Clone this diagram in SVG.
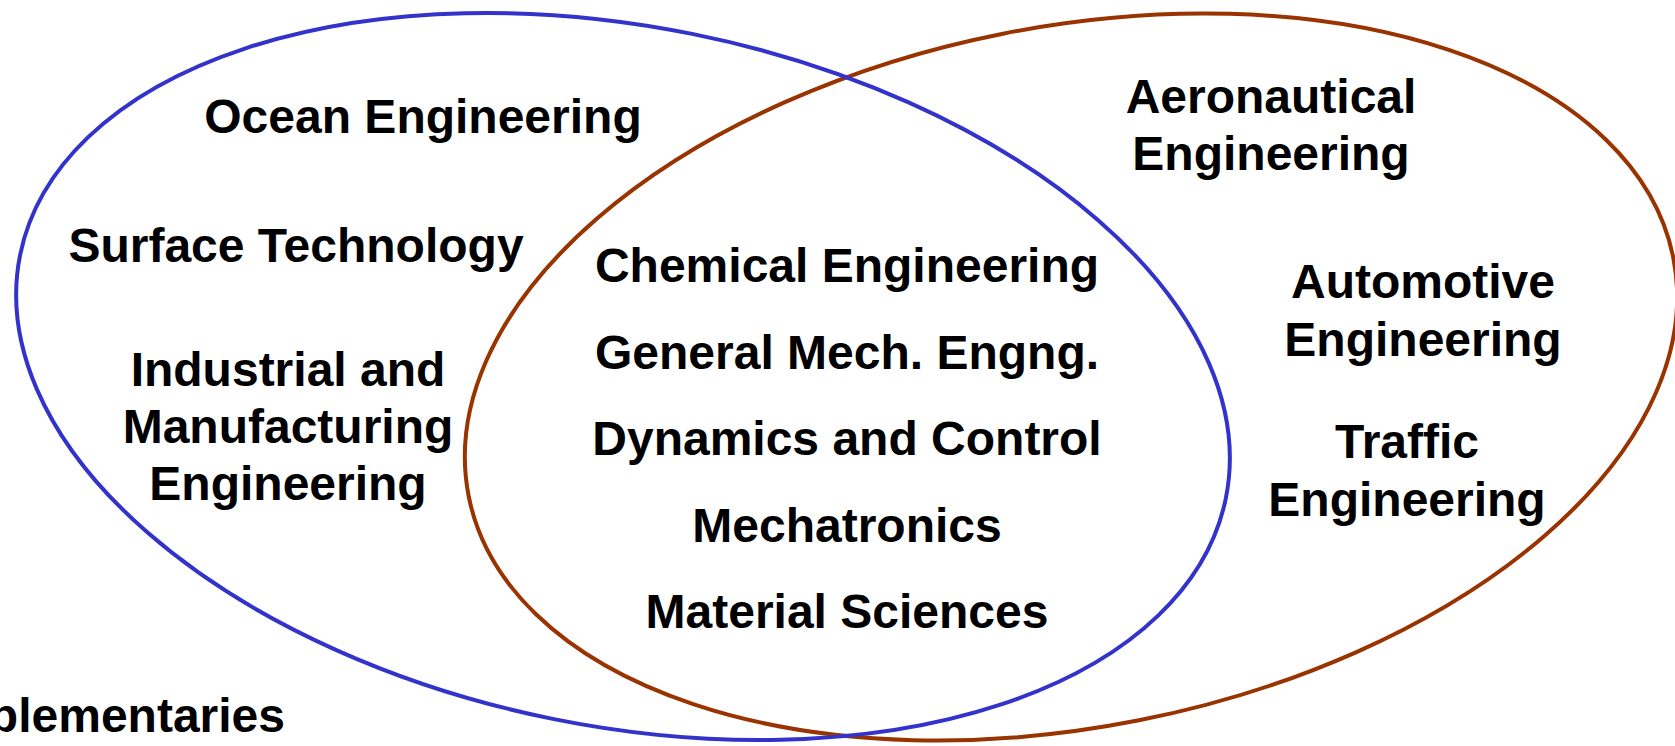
<svg xmlns="http://www.w3.org/2000/svg" width="1675" height="746" viewBox="0 0 1675 746">
  <style>
    .set { fill: none; stroke-width: 4; }
    .blue { stroke: #3333CC; }
    .brown { stroke: #993300; }
    text { font-family: "Liberation Sans", Arial, sans-serif; font-weight: bold; font-size: 48px; fill: #000000; text-anchor: middle; }
  </style>
  <rect x="0" y="0" width="1675" height="746" fill="#FFFFFF"/>
  <g id="sets">
    <ellipse id="set-right" class="set brown" cx="1071" cy="377" rx="614" ry="350" transform="rotate(-11.2 1071 377)"/>
    <ellipse id="set-left" class="set blue" cx="623" cy="376.5" rx="615" ry="349.5" transform="rotate(11.4 623 376.5)"/>
  </g>
  <g id="connectors"/>
  <g id="ocean"><text x="423" y="133">Ocean Engineering</text></g>
  <g id="surface"><text x="296" y="262">Surface Technology</text></g>
  <g id="industrial">
    <text x="288" y="386">Industrial and</text>
    <text x="288" y="443">Manufacturing</text>
    <text x="288" y="500">Engineering</text>
  </g>
  <g id="chemical"><text x="847" y="282">Chemical Engineering</text></g>
  <g id="general"><text x="847" y="369">General Mech. Engng.</text></g>
  <g id="dynamics"><text x="847" y="455">Dynamics and Control</text></g>
  <g id="mechatronics"><text x="847" y="542">Mechatronics</text></g>
  <g id="material"><text x="847" y="628">Material Sciences</text></g>
  <g id="aeronautical">
    <text x="1271" y="113">Aeronautical</text>
    <text x="1271" y="170">Engineering</text>
  </g>
  <g id="automotive">
    <text x="1423" y="298">Automotive</text>
    <text x="1423" y="356">Engineering</text>
  </g>
  <g id="traffic">
    <text x="1407" y="458">Traffic</text>
    <text x="1407" y="516">Engineering</text>
  </g>
  <g id="complementaries"><text x="285" y="732" style="text-anchor:end">plementaries</text></g>
</svg>
